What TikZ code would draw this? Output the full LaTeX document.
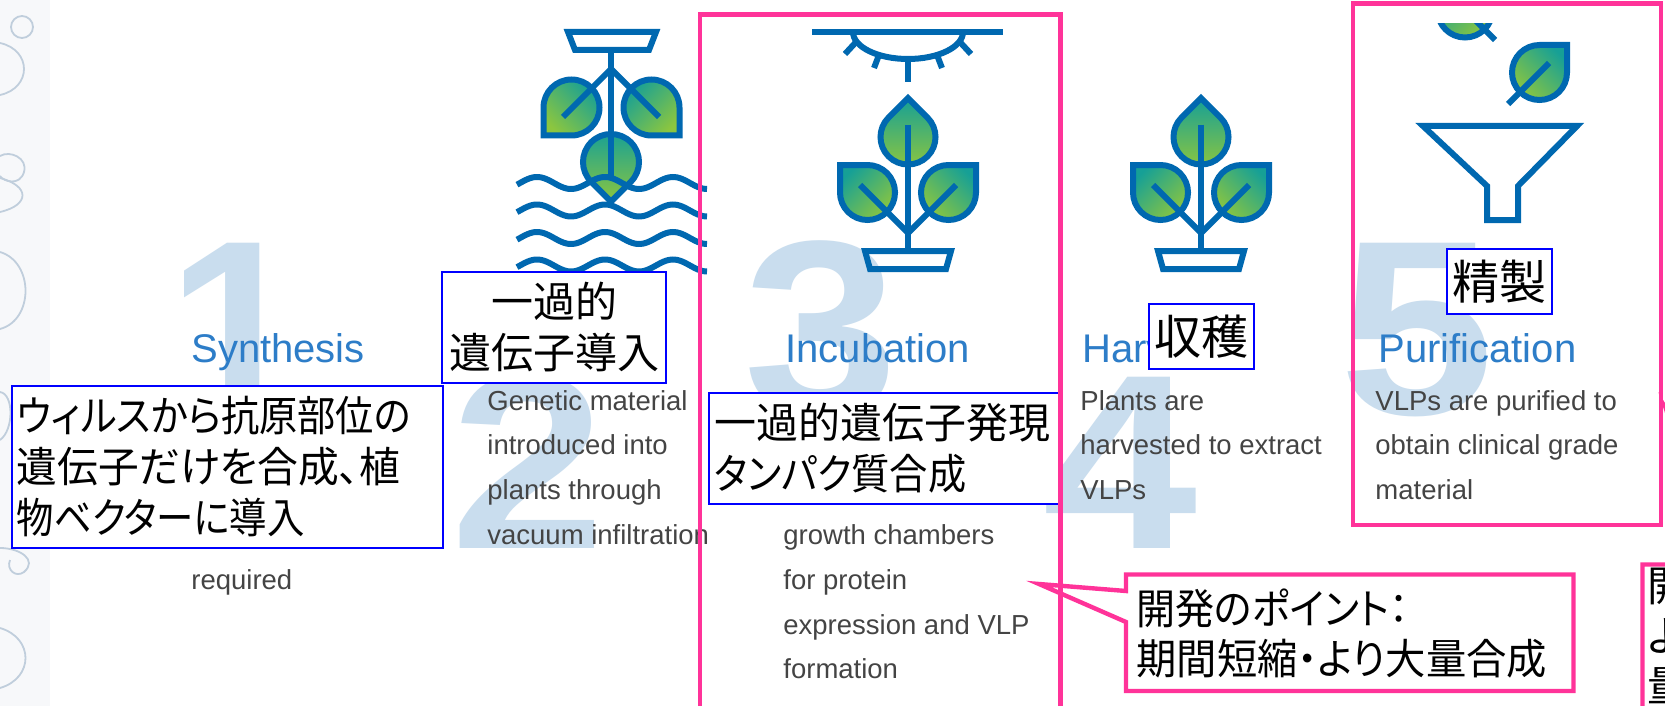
\documentclass[tikz,border=0pt]{standalone}
\usepackage{fontspec}
\usepackage{graphicx}
\setmainfont{Liberation Sans}
\newfontfamily\jpfont{Noto Sans CJK JP}[RawFeature={+palt}]
\usetikzlibrary{calc}

\definecolor{pinkline}{RGB}{255,51,153}
\definecolor{iconblue}{RGB}{0,104,176}
\definecolor{leafteal}{RGB}{22,160,150}
\definecolor{leafgreen}{RGB}{140,198,63}
\definecolor{numblue}{RGB}{201,221,238}
\definecolor{titleblue}{RGB}{45,125,200}
\definecolor{bodygray}{RGB}{68,68,68}
\definecolor{loopgray}{RGB}{192,206,220}
\definecolor{stripbg}{RGB}{247,248,250}

% leaf = circle with one square corner
% #1,#2 centre, #3 radius, #4 corner direction, #5 shading angle
\newcommand{\leafpath}[5]{%
  \draw[iconline, top color=leafteal, bottom color=leafgreen, shading angle=#5]
    ($(#1,#2)+({#4+45}:#3)$) -- ($(#1,#2)+(#4:{#3*1.41421})$)
    -- ($(#1,#2)+({#4-45}:#3)$)
    arc[start angle={#4-45}, end angle={#4-315}, radius=#3] -- cycle;}

% potted plant with three leaves, #1 = horizontal centre
\newcommand{\pottedplant}[1]{%
  \leafpath{#1}{137}{27.5}{-90}{0}
  \leafpath{#1-40.5}{192.5}{27.5}{-135}{45}
  \leafpath{#1+40.5}{192.5}{27.5}{-45}{-45}
  \draw[iconline] (#1,125) -- (#1,251);
  \draw[iconline] (#1-48,185) -- (#1,233) -- (#1+48,185);
  \draw[iconline] (#1-43,251) -- (#1+43,251) -- (#1+38,269) -- (#1-38,269) -- cycle;}

% horizontally condensed line of text
\newcommand{\narrow}[2]{\scalebox{#1}[1]{#2}}

\begin{document}
\begin{tikzpicture}[x=0.5pt, y=-0.5pt,
  iconline/.style={draw=iconblue, line width=3pt, line join=miter},
  loopline/.style={draw=loopgray, line width=0.9pt},
  numstyle/.style={text=numblue, font=\fontsize{124.5}{124.5}\selectfont\bfseries, inner sep=0, anchor=base},
  titlestyle/.style={text=titleblue, font=\fontsize{20}{24}\selectfont, inner sep=0, anchor=base west},
  bodystyle/.style={text=bodygray, font=\fontsize{13.75}{16}\selectfont, inner sep=0, anchor=base west},
  notebox/.style={draw=blue, line width=1pt, fill=white, inner ysep=0pt, inner xsep=2.5pt,
    anchor=north west, font=\jpfont\fontsize{21}{25.5}\selectfont},
  pinkframe/.style={draw=pinkline, line width=2.2pt},
  calloutbox/.style={draw=pinkline, line width=2.2pt, fill=white, line join=miter},
]
\useasboundingbox (0,0) rectangle (1665,706);
\clip (0,0) rectangle (1665,706);
\fill[white] (0,0) rectangle (1665,706);

% decorative strip on the left edge
\fill[stripbg] (0,0) rectangle (50,706);
\draw[loopline] (22,27) circle[radius=11];
\draw[loopline] (0,43) .. controls (32,50) and (32,88) .. (0,95);
\draw[loopline] (0,156) .. controls (10,150) and (28,158) .. (24,172) .. controls (20,186) and (4,182) .. (0,176);
\draw[loopline] (0,178) .. controls (30,186) and (30,205) .. (0,212);
\draw[loopline] (0,252) .. controls (34,262) and (34,320) .. (0,329);
\draw[loopline] (0,392) .. controls (14,394) and (14,430) .. (0,440);
\draw[loopline] (0,548) .. controls (20,548) and (38,560) .. (24,572) .. controls (16,578) and (6,570) .. (10,560);
\draw[loopline] (0,628) .. controls (34,638) and (34,678) .. (0,688);

% large step numbers
\node[numstyle] (n1) at (236.5,414) {1};
\node[numstyle] (n2) at (528,548) {\scalebox{1.12}[1]{2}};
\node[numstyle] (n3) at (821.5,414) {\scalebox{1.12}[1]{3}};
\node[numstyle] (n4) at (1120.5,548) {\scalebox{1.12}[1]{4}};
\node[numstyle] (n5) at (1417.5,414) {\scalebox{1.12}[1]{5}};

% step titles
\node[titlestyle] (t1) at (191,362) {Synthesis};
\node[titlestyle] (t3) at (785,362) {Incubation};
\node[titlestyle] (t4) at (1082,362) {Harvest};
\node[titlestyle] (t5) at (1378,362) {Purification};

% step descriptions
\node[bodystyle] (d1e) at (191,589.2) {required};
\node[bodystyle] (d2a) at (487,410) {Genetic material};
\node[bodystyle] (d2b) at (487,454.8) {introduced into};
\node[bodystyle] (d2c) at (487,499.6) {plants through};
\node[bodystyle] (d2d) at (487,544.4) {vacuum infiltration};
\node[bodystyle] (d3d) at (783,544.4) {growth chambers};
\node[bodystyle] (d3e) at (783,589.2) {for protein};
\node[bodystyle] (d3f) at (783,634) {expression and VLP};
\node[bodystyle] (d3g) at (783,678.8) {formation};
\node[bodystyle] (d4a) at (1080,410) {Plants are};
\node[bodystyle] (d4b) at (1080,454.8) {harvested to extract};
\node[bodystyle] (d4c) at (1080,499.6) {VLPs};
\node[bodystyle] (d5a) at (1375,410) {VLPs are purified to};
\node[bodystyle] (d5b) at (1375,454.8) {obtain clinical grade};
\node[bodystyle] (d5c) at (1375,499.6) {material};

% line of text running off the bottom edge
\node[anchor=base west, inner sep=0, font=\jpfont\fontsize{21}{25}\selectfont] (bottomline) at (305,745) {上記の種類};

% icon 2: vacuum infiltration
\draw[iconline] (568,32) -- (656,32) -- (649,50) -- (575,50) -- cycle;
\leafpath{571.5}{107.5}{28}{135}{-45}
\leafpath{651.5}{107.5}{28}{45}{45}
\leafpath{611}{162}{28}{90}{0}
\draw[iconline] (611,50) -- (611,176);
\draw[iconline] (563,117) -- (611,69) -- (659,117);
\foreach \wy in {183,210.5,238,265.5}
  \draw[iconline] plot[domain=517:707, samples=90, smooth] (\x, {\wy - 6*sin(5.2941*(\x-520))});

% icon 3: growth chamber lamp over a plant
\draw[iconline] (812,32) -- (1003,32);
\draw[iconline] (963,32) arc[start angle=0, end angle=180, x radius=55, y radius=27];
\draw[iconline] (908,59) -- (908,82);
\draw[iconline] (879,55) -- (874,68);
\draw[iconline] (937,55) -- (942,68);
\draw[iconline] (857,41) -- (845,54);
\draw[iconline] (959,41) -- (971,54);
\pottedplant{908}

% icon 4: harvested plant
\pottedplant{1201}

% icon 5: funnel with falling leaves
\draw[iconline] (1423,126) -- (1577,126) -- (1518,186) -- (1518,220) -- (1487,220) -- (1487,186) -- cycle;
\leafpath{1539.5}{72.5}{27.5}{-45}{-45}
\draw[iconline] (1549,63) -- (1508,104);
\begin{scope}
  \clip (1400,24) rectangle (1530,80);
  \leafpath{1465}{10}{27.5}{-135}{45}
  \draw[iconline] (1456,1) -- (1495,40);
\end{scope}

% Japanese notes
\node[notebox, minimum width=215.5pt, minimum height=81pt, text width=210.5pt, align=left] (noteA) at (11,385)
  {\narrow{0.91}{ウィルスから抗原部位の}\\\narrow{0.97}{遺伝子だけを合成、植}\\\narrow{0.89}{物ベクターに導入}};
\node[notebox, minimum width=112pt, minimum height=55.5pt, text width=107pt, align=center] (noteB) at (441,271)
  {一過的\\遺伝子導入};
\node[notebox, minimum width=175.5pt, minimum height=55.5pt, text width=170.5pt, align=left] (noteC) at (708,392)
  {一過的遺伝子発現\\\narrow{0.91}{タンパク質合成}};
\node[notebox, minimum width=52.5pt, minimum height=32.5pt, text width=47.5pt, align=center,
  font=\jpfont\fontsize{23.5}{28}\selectfont] (noteD) at (1148,303) {収穫};
\node[notebox, minimum width=52.5pt, minimum height=32.5pt, text width=47.5pt, align=center,
  font=\jpfont\fontsize{23.5}{28}\selectfont] (noteE) at (1446,248) {精製};

% callout: development point
\coordinate (cbnw) at (1126,574.5);
\coordinate (cbse) at (1573.5,691);
\coordinate (cbtip) at (1039,584);
\draw[calloutbox] (cbnw) -- (cbse |- cbnw) -- (cbse) -- (cbnw |- cbse)
  -- ($(cbnw)+(0,47.5)$) -- (cbtip) -- ($(cbnw)+(0,16.5)$) -- cycle;
\node[anchor=north west, inner xsep=5pt, inner ysep=0pt, minimum height=58.25pt, text width=210pt, align=left,
  font=\jpfont\fontsize{21}{25}\selectfont] (callout) at (cbnw)
  {\narrow{0.93}{開発のポイント：}\\\narrow{0.96}{期間短縮・より大量合成}};

% callout at the right edge
\coordinate (rbnw) at (1642.5,564.5);
\coordinate (rbtip) at (1666,409);
\draw[calloutbox] (rbnw) -- (1715,564.5) -- (rbtip) -- (1760,564.5) -- (1800,564.5)
  -- (1800,800) -- (1642.5,800) -- cycle;
\node[anchor=north west, inner xsep=2.5pt, inner ysep=1.5pt, align=left,
  font=\jpfont\fontsize{21}{25}\selectfont] (rightnote) at (rbnw)
  {開\\よ\\量};

% pink frames around steps 3 and 5
\draw[pinkframe] (700,14.5) rectangle (1060.5,730);
\draw[pinkframe] (1353,3.5) rectangle (1661,525);
\end{tikzpicture}
\end{document}
